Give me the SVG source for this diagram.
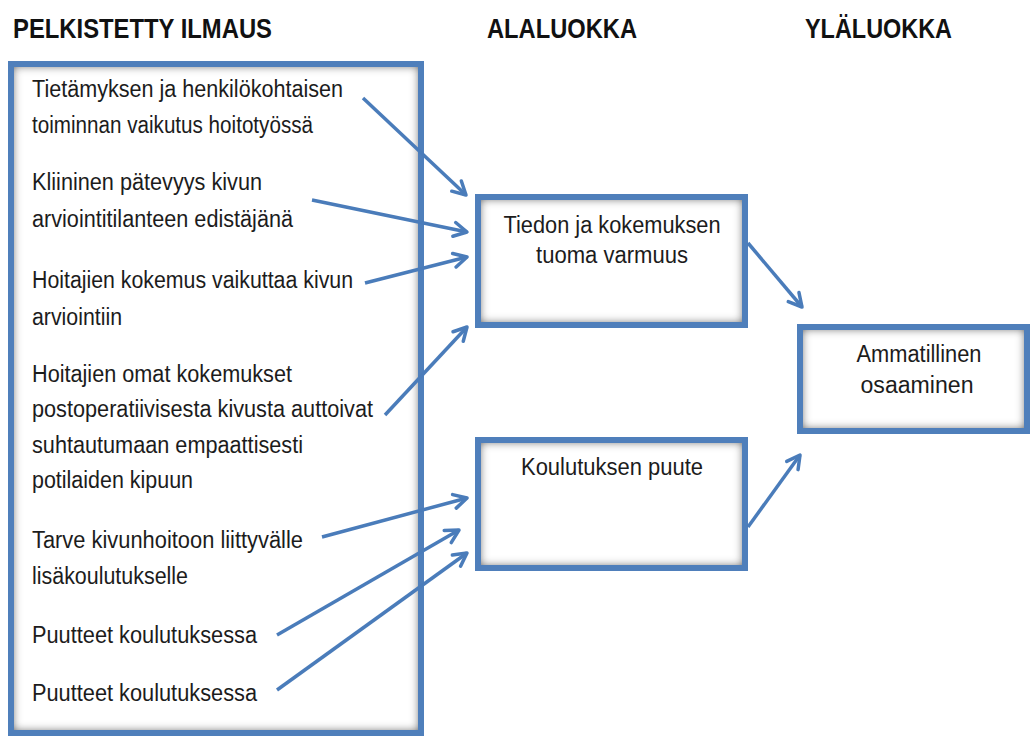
<svg xmlns="http://www.w3.org/2000/svg" width="1030" height="736" viewBox="0 0 1030 736">
<style>
  .hdr{font-family:"Liberation Sans",Arial,sans-serif;font-weight:bold;font-size:28px;fill:#111;}
  .t{font-family:"Liberation Sans",Arial,sans-serif;font-size:23px;fill:#1c1c1c;}
  .c{text-anchor:middle;}
  .fill{fill:#fff;filter:url(#inset);}
  .border{fill:none;stroke:#4f7fbb;stroke-width:6;}
  .conn line{stroke:#4a7cba;stroke-width:3.5;marker-end:url(#arr);}
</style>
<defs>
  <filter id="inset" x="-8%" y="-8%" width="116%" height="116%">
    <feMorphology in="SourceAlpha" operator="erode" radius="3" result="er"/>
    <feFlood flood-color="#4a4a4a" result="fl"/>
    <feComposite in="fl" in2="er" operator="out" result="outside"/>
    <feGaussianBlur in="outside" stdDeviation="4.5" result="blur"/>
    <feComposite in="blur" in2="SourceAlpha" operator="in" result="shadow"/>
    <feMerge><feMergeNode in="SourceGraphic"/><feMergeNode in="shadow"/></feMerge>
  </filter>
  <marker id="arr" markerUnits="userSpaceOnUse" markerWidth="20" markerHeight="20" viewBox="0 0 20 20" refX="17" refY="10" orient="auto">
    <path d="M4,3 L17,10 L4,17" fill="none" stroke="#4a7cba" stroke-width="3.5" stroke-linecap="round" stroke-linejoin="round"/>
  </marker>
</defs>
<rect width="1030" height="736" fill="#fff"/>

<g id="headers">
  <text class="hdr" x="13" y="38" textLength="259" lengthAdjust="spacingAndGlyphs">PELKISTETTY ILMAUS</text>
  <text class="hdr" x="487" y="38" textLength="150" lengthAdjust="spacingAndGlyphs">ALALUOKKA</text>
  <text class="hdr" x="805" y="38" textLength="147" lengthAdjust="spacingAndGlyphs">YLÄLUOKKA</text>
</g>

<g id="node-pelkistetty">
  <rect class="fill" x="11" y="64" width="410" height="669"/>
  <rect class="border" x="11" y="64" width="410" height="669"/>
  <text class="t" x="32" y="97" textLength="311" lengthAdjust="spacingAndGlyphs">Tietämyksen ja henkilökohtaisen</text>
  <text class="t" x="32" y="133" textLength="281" lengthAdjust="spacingAndGlyphs">toiminnan vaikutus hoitotyössä</text>
  <text class="t" x="32" y="190" textLength="230" lengthAdjust="spacingAndGlyphs">Kliininen pätevyys kivun</text>
  <text class="t" x="32" y="227" textLength="261" lengthAdjust="spacingAndGlyphs">arviointitilanteen edistäjänä</text>
  <text class="t" x="32" y="288" textLength="321" lengthAdjust="spacingAndGlyphs">Hoitajien kokemus vaikuttaa kivun</text>
  <text class="t" x="32" y="325" textLength="90" lengthAdjust="spacingAndGlyphs">arviointiin</text>
  <text class="t" x="32" y="382" textLength="260" lengthAdjust="spacingAndGlyphs">Hoitajien omat kokemukset</text>
  <text class="t" x="32" y="417" textLength="341" lengthAdjust="spacingAndGlyphs">postoperatiivisesta kivusta auttoivat</text>
  <text class="t" x="32" y="453" textLength="271" lengthAdjust="spacingAndGlyphs">suhtautumaan empaattisesti</text>
  <text class="t" x="32" y="488" textLength="161" lengthAdjust="spacingAndGlyphs">potilaiden kipuun</text>
  <text class="t" x="32" y="548" textLength="271" lengthAdjust="spacingAndGlyphs">Tarve kivunhoitoon liittyvälle</text>
  <text class="t" x="32" y="584" textLength="156" lengthAdjust="spacingAndGlyphs">lisäkoulutukselle</text>
  <text class="t" x="32" y="643" textLength="225" lengthAdjust="spacingAndGlyphs">Puutteet koulutuksessa</text>
  <text class="t" x="32" y="701" textLength="225" lengthAdjust="spacingAndGlyphs">Puutteet koulutuksessa</text>
</g>

<g id="node-tiedon">
  <rect class="fill" x="478" y="197" width="267" height="128"/>
  <rect class="border" x="478" y="197" width="267" height="128"/>
  <text class="t c" x="612" y="233" textLength="217" lengthAdjust="spacingAndGlyphs">Tiedon ja kokemuksen</text>
  <text class="t c" x="612" y="263" textLength="152" lengthAdjust="spacingAndGlyphs">tuoma varmuus</text>
</g>

<g id="node-koulutus">
  <rect class="fill" x="478" y="440" width="267" height="128"/>
  <rect class="border" x="478" y="440" width="267" height="128"/>
  <text class="t c" x="612" y="475" textLength="182" lengthAdjust="spacingAndGlyphs">Koulutuksen puute</text>
</g>

<g id="node-ammatillinen">
  <rect class="fill" x="800" y="327" width="227" height="104"/>
  <rect class="border" x="800" y="327" width="227" height="104"/>
  <text class="t c" x="919" y="362" textLength="125" lengthAdjust="spacingAndGlyphs">Ammatillinen</text>
  <text class="t c" x="917" y="393" textLength="113" lengthAdjust="spacingAndGlyphs">osaaminen</text>
</g>

<g id="connectors" class="conn">
  <line x1="363" y1="98" x2="466" y2="195"/>
  <line x1="312" y1="200" x2="467" y2="232"/>
  <line x1="365" y1="283" x2="467" y2="257"/>
  <line x1="385" y1="415" x2="467" y2="327"/>
  <line x1="322" y1="537" x2="467" y2="498"/>
  <line x1="277" y1="635" x2="459" y2="530"/>
  <line x1="277" y1="690" x2="467" y2="553"/>
  <line x1="748" y1="243" x2="802" y2="307"/>
  <line x1="748" y1="527" x2="800" y2="455"/>
</g>
</svg>
